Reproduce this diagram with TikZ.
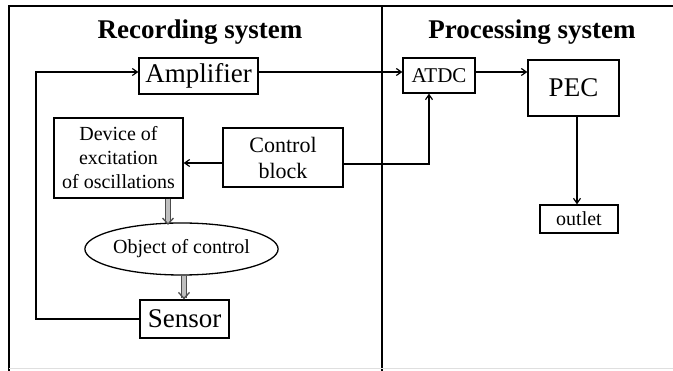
\documentclass[tikz,border=0pt]{standalone}
\usepackage{fontspec}
\setmainfont{Liberation Serif}
\usetikzlibrary{arrows.meta,shapes.geometric}
\begin{document}
\begin{tikzpicture}[x=1pt,y=-1pt,
  box/.style={draw, line width=1.3pt, inner sep=0pt, align=center},
  arr/.style={line width=1.2pt, -{Straight Barb[length=5pt,width=7pt]}},
  fat/.style={draw=gray!60!black, line width=1.3pt, double=gray!50, double distance=3.5pt, -{Straight Barb[length=6pt,width=11pt]}},
  ttl/.style={font=\fontsize{27}{30}\selectfont\bfseries}]
\useasboundingbox (0,0) rectangle (673,371);
% frame
\draw[line width=1.8pt] (9,371) -- (9,6) -- (673,6);
\draw[line width=1.8pt] (382,6) -- (382,371);
\draw[gray!25, line width=1pt] (9,369) -- (673,369);
% titles
\node[ttl] (t1) at (200,32) {Recording system};
\node[ttl] (t2) at (532,32) {Processing system};
% nodes
\node[box, minimum width=119pt, minimum height=36pt, font=\fontsize{27}{28}\selectfont] (amp) at (198.5,76) {Amplifier};
\node[box, minimum width=72pt, minimum height=35pt, font=\fontsize{21}{23}\selectfont] (atdc) at (439,75.5) {ATDC};
\node[box, minimum width=91pt, minimum height=56pt, font=\fontsize{27}{29}\selectfont] (pec) at (573.5,88) {PEC};
\node[box, minimum width=78pt, minimum height=28pt, font=\fontsize{20}{22}\selectfont] (out) at (579,219) {outlet};
\node[box, minimum width=120pt, minimum height=59pt, font=\fontsize{22}{26}\selectfont] (ctrl) at (283,157.5) {Control\\block};
\node[box, minimum width=129pt, minimum height=80pt, font=\fontsize{20}{24}\selectfont] (dev) at (118.5,158) {Device of\\excitation\\of oscillations};
\node[draw, line width=1.3pt, ellipse, minimum width=189pt, minimum height=52pt, inner sep=0pt, font=\fontsize{20}{22}\selectfont] (obj) at (181.5,249) {Object of control};
\node[box, minimum width=89pt, minimum height=38pt, font=\fontsize{27}{29}\selectfont] (sen) at (184.5,319) {Sensor};
% helper coordinates
\coordinate (fb) at (36,72);
\coordinate (cb) at (429,164);
\coordinate (px) at (577,0);
\coordinate (d1) at (168,0);
\coordinate (d2) at (184,0);
% connectors
\draw[arr] (sen.west) -| (fb) -- (fb -| amp.west);
\draw[arr] (amp.east |- fb) -- (atdc.west |- fb);
\draw[arr] (atdc.east |- fb) -- (pec.west |- fb);
\draw[arr] (pec.south -| px) -- (out.north -| px);
\draw[arr] (ctrl.east |- cb) -- (cb) -- (atdc.south -| cb);
\draw[arr] (ctrl.west |- 0,163) -- (dev.east |- 0,163);
\draw[fat] (dev.south -| d1) -- (168,225);
\draw[fat] (obj.south -| d2) -- (sen.north -| d2);
\end{tikzpicture}
\end{document}
